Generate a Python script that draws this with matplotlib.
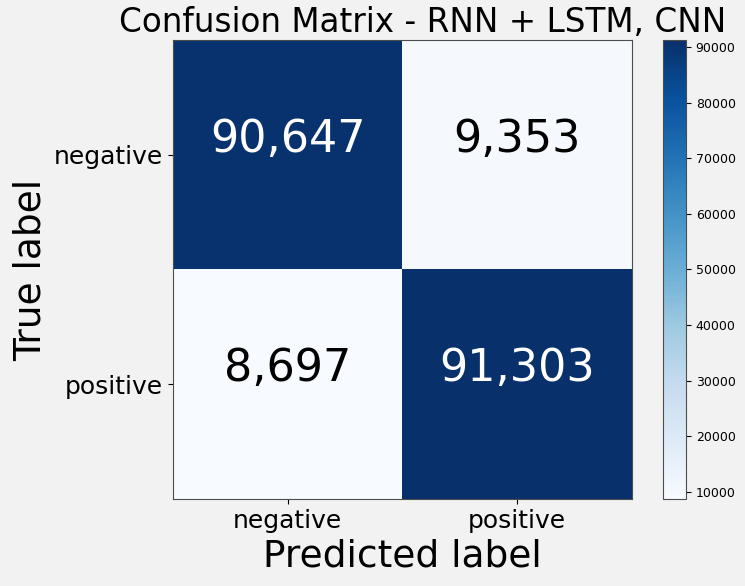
import numpy as np
import matplotlib.pyplot as plt

classes = ["negative", "positive"]
cm = np.array([[90647, 9353],
               [8697, 91303]])
cbar_ticks = [10000, 20000, 30000, 40000, 50000, 60000, 70000, 80000, 90000]

W, H = 745, 586
fig = plt.figure(figsize=(W / 100, H / 100), dpi=100, facecolor="#f2f2f2")
ax = fig.add_axes([173 / W, 1 - 499 / H, 459 / W, 459 / H])
cax = fig.add_axes([663 / W, 1 - 499 / H, 23 / W, 459 / H])

im = ax.imshow(cm, interpolation="nearest", cmap=plt.cm.Blues, aspect="auto")
ax.set_title("Confusion Matrix - RNN + LSTM, CNN", fontsize=23.5, x=0.543)
cb = fig.colorbar(im, cax=cax, ticks=cbar_ticks)
cb.ax.tick_params(labelsize=9)
cb.outline.set_edgecolor("0.3")

ticks = np.arange(len(classes))
ax.set_xticks(ticks)
ax.set_xticklabels(classes, fontsize=18)
ax.set_yticks(ticks)
ax.set_yticklabels(classes, fontsize=18)

# numbers sit a bit above the cell centre, like the old text alignment
thresh = cm.max() / 2.
for i in range(cm.shape[0]):
    for j in range(cm.shape[1]):
        ax.annotate(format(cm[i, j], ","), xy=(j, i), xytext=(0, 11),
                    textcoords="offset points",
                    ha="center", va="center", fontsize=32,
                    color="white" if cm[i, j] > thresh else "black")

ax.set_ylabel("True label", fontsize=27)
ax.set_xlabel("Predicted label", fontsize=27)
for s in ax.spines.values():
    s.set_edgecolor("0.3")

fig.savefig("out.png", dpi=100, facecolor=fig.get_facecolor())
